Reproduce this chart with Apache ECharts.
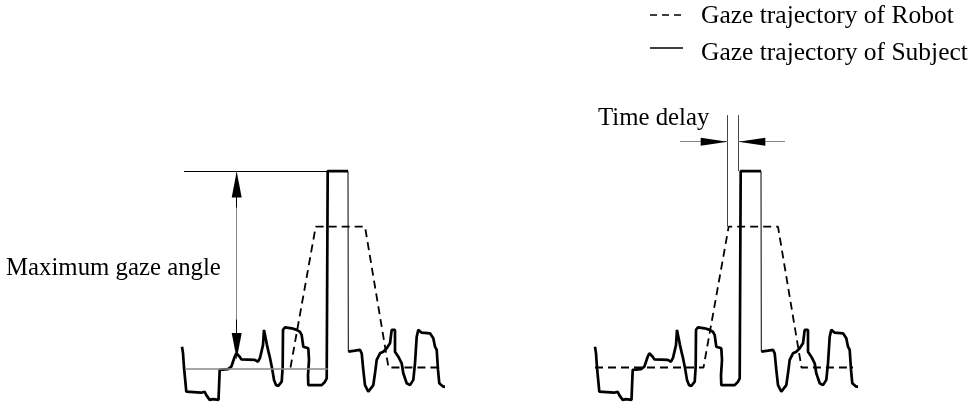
<!DOCTYPE html>
<html>
<head>
<meta charset="utf-8">
<script src="https://cdn.jsdelivr.net/npm/echarts@6/dist/echarts.min.js"></script>
<style>html,body{margin:0;padding:0;background:#fff;}#c{width:975px;height:407px;}</style>
</head>
<body>
<div id="c"></div>
<script>
// Subject gaze trajectory (time, angle)
const subjectT = [2,3,4,5.5,6.3,8,21,24.7,26.3,29.7,33,38.5,39.7,48,51.3,53,54.7,56.3,59.7,61.3,74.7,78,80,83,84,86,87,88.5,90,92,94,96,98.3,101.7,102.7,103,105,111.7,116.7,120,121.7,123.3,128.3,129,128,128.3,141.7,145,146.7,147.7,147.7,168,168.3,170,175,180,181.7,183.3,185,188.3,190,193.3,195,196.7,200,203.3,206.7,210,211.7,215,215,218.3,221.7,223.3,226.7,230,233.3,235,236.7,238.3,241.7,250,253.3,255,256.7,258,259.3,263.3,265];
const subjectA = [5.2,3.6,0,-0.4,-6.05,-6.3,-6.3,-6.05,-6.9,-8.1,-7.9,-8.1,-0.6,-0.4,0.2,1.45,2.7,3.55,2.7,2.05,1.9,1.45,2.4,5.6,9.4,8.9,5.6,3.9,2.4,-0.1,-3.1,-4.4,-4.6,-3.55,0.2,9.4,10.05,9.8,9.4,8.9,8.1,5.2,4.8,1.9,-1.9,-4.4,-4.4,-3.55,-2.7,-2.6,49.1,49.1,3.95,3.95,4.2,4.4,3.55,-0.6,-4.4,-6.05,-6.05,-4.4,-1.45,1.9,3.55,3.95,4.8,6.05,9.4,9.4,3.95,2.7,1.05,-1.45,-3.95,-4.4,-3.1,1.05,7.7,9.4,8.7,8.55,7.3,5.2,4.4,-0.6,-3.95,-4.8,-4.8];
// Robot gaze trajectory (time, angle)
const robotT = [2,110.5,135.7,185,208.5,260];
const robotA = [0,0,35.2,35.2,0,0];
// Texts
const legendNames = ['Gaze trajectory of Robot','Gaze trajectory of Subject'];
const labelMax = 'Maximum gaze angle';
const labelDelay = 'Time delay';

const subject = subjectT.map((t,i)=>[t,subjectA[i]]);
const robot = robotT.map((t,i)=>[t,robotA[i]]);
const PEAK_END = 51; // index of peak top-right corner

const FONT = 'Liberation Serif';
const FS = 24.8;
const FSL = 25.5;

function solid(color,width){return {color:color,width:width,type:'solid'};}
function seg(a,b,ls,sym,size){
  return [{coord:a,symbol:'none',lineStyle:ls},{coord:b,symbol:sym||'none',symbolSize:size||10}];
}

function panelSeries(gi, showFullRobot, marks){
  const base = {type:'line',xAxisIndex:gi,yAxisIndex:gi,symbol:'none',showSymbol:false,clip:false,silent:true,animation:false};
  const s = [
    Object.assign({},base,{data:subject.slice(0,PEAK_END+1),lineStyle:solid('#000',2.7)}),
    Object.assign({},base,{data:subject.slice(PEAK_END,PEAK_END+2),lineStyle:solid('#000',1)}),
    Object.assign({},base,{data:subject.slice(PEAK_END+1),lineStyle:solid('#000',2.7)}),
    Object.assign({},base,{data:showFullRobot?robot:robot.slice(1),
      lineStyle:{color:'#000',width:1.8,type:[8,5]},
      markLine:{silent:true,animation:false,symbol:'none',label:{show:false},emphasis:{disabled:true},data:marks}})
  ];
  return s;
}

const leftMarks = [
  seg([4,49.1],[147.7,49.1],solid('#000',1)),
  seg([6,-0.3],[147.7,-0.3],solid('#888',1.5)),
  seg([56.7,49],[56.7,2.1],solid('#888',1)),
  seg([56.7,40],[56.7,45.75],solid('#000',1),'triangle',[10,26]),
  seg([56.7,12],[56.7,5.4],solid('#000',1),'triangle',[10,26])
];
const rightMarks = [
  seg([134.7,63.1],[134.7,35.2],solid('#444',1)),
  seg([145.3,63.1],[145.3,49.1],solid('#444',1)),
  seg([87,56.45],[134.7,56.45],solid('#888',1)),
  seg([145.3,56.45],[192,56.45],solid('#888',1)),
  seg([110,56.45],[121.2,56.45],solid('#000',1),'triangle',[8,27]),
  seg([170,56.45],[158.8,56.45],solid('#000',1),'triangle',[8,27])
];

const axisX = (gi)=>({type:'value',gridIndex:gi,min:0,max:300,show:false});
const axisY = (gi)=>({type:'value',gridIndex:gi,min:-9.875,max:91.875,show:false});

const chart = echarts.init(document.getElementById('c'),null,{renderer:'canvas'});
chart.setOption({
  animation:false,
  backgroundColor:'#fff',
  grid:[{left:180,top:0,width:300,height:407},{left:593,top:0,width:300,height:407}],
  xAxis:[axisX(0),axisX(1)],
  yAxis:[axisY(0),axisY(1)],
  series:[].concat(panelSeries(0,false,leftMarks),panelSeries(1,true,rightMarks)),
  graphic:[
    {type:'line',shape:{x1:650,y1:15,x2:683,y2:15},style:{stroke:'#000',lineWidth:1.5,lineDash:[7,5]},silent:true},
    {type:'text',x:701,y:16,style:{text:legendNames[0],font:FSL+'px "'+FONT+'"',fill:'#000',verticalAlign:'middle'},silent:true},
    {type:'line',shape:{x1:650,y1:48,x2:683,y2:48},style:{stroke:'#000',lineWidth:1.5},silent:true},
    {type:'text',x:701,y:53.5,style:{text:legendNames[1],font:FSL+'px "'+FONT+'"',fill:'#000',verticalAlign:'middle'},silent:true},
    {type:'text',x:6,y:268,style:{text:labelMax,font:FS+'px "'+FONT+'"',fill:'#000',verticalAlign:'middle'},silent:true},
    {type:'text',x:598,y:118,style:{text:labelDelay,font:FS+'px "'+FONT+'"',fill:'#000',verticalAlign:'middle'},silent:true}
  ]
});
</script>
</body>
</html>
